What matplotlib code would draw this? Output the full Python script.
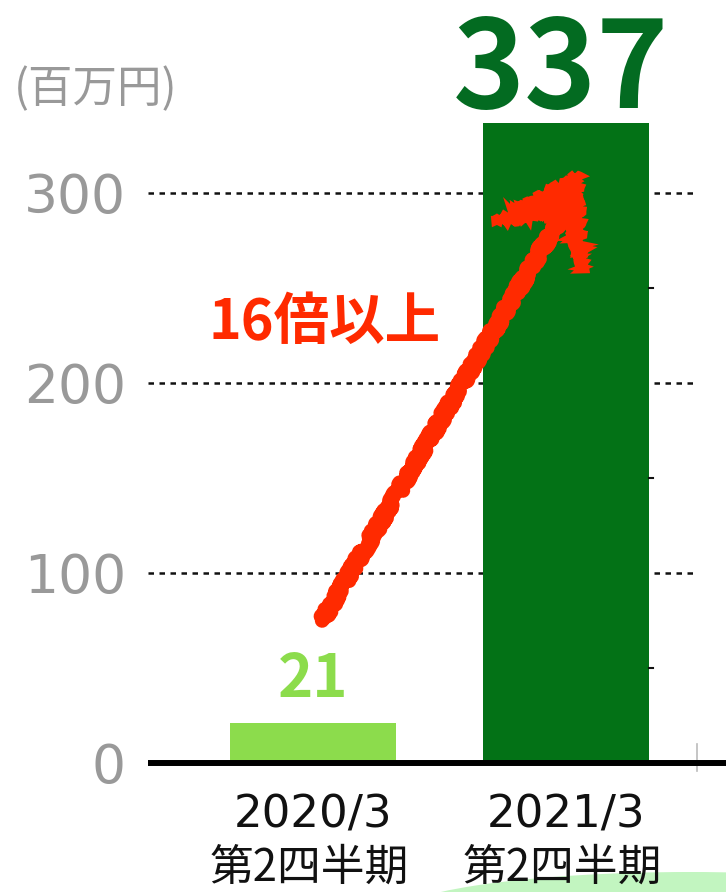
import matplotlib
matplotlib.use("Agg")
import matplotlib.pyplot as plt
from matplotlib.patches import Ellipse, Polygon

# ---- data ----
categories = ["2020/3\n第2四半期", "2021/3\n第2四半期"]
values = [21, 337]
bar_colors = ["#8cdc4c", "#037216"]
label_colors = ["#8cdc4c", "#036b21"]
yticks = [0, 100, 200, 300]
unit_label = "(百万円)"
growth_label = "16倍以上"

W, H = 726, 892
fig = plt.figure(figsize=(W / 100, H / 100), dpi=100)
fig.patch.set_facecolor("white")

# light green decorative ellipse at bottom right
ell = Ellipse((690 / W, 1 - 917 / H), 600 / W, 90 / H, transform=fig.transFigure,
              facecolor="#c2f5c0", edgecolor="none", zorder=-5)
fig.patches.append(ell)

ax = fig.add_axes([148 / W, 0, 578 / W, 1])
ax.patch.set_visible(False)
ax.set_xlim((148 - 313) / 253, (726 - 313) / 253)
ax.set_ylim(-(892 - 763) / 1.9, 763 / 1.9)
for s in ax.spines.values():
    s.set_visible(False)

cjk = ["Noto Sans CJK JP", "DejaVu Sans"]

# gridlines
grid_end = (693 - 313) / 253
for t in yticks[1:]:
    ax.plot([ax.get_xlim()[0], grid_end], [t, t], color="#111111", lw=1.8,
            linestyle=(0, (2.2, 2.2)), zorder=1)

x = list(range(len(values)))
ax.bar(x, values, width=0.66, color=bar_colors, zorder=2)

# small marks on right edge of second bar
for t in [50, 150, 250]:
    ax.plot([1.33, 1.345], [t, t], color="#111111", lw=1.5, zorder=3)

# baseline
ax.axhline(0, color="black", lw=4.3, zorder=4)
ax.plot([1.518, 1.518], [10, -4], color="#bbbbbb", lw=1.2, zorder=3)

# y tick labels
ax.set_yticks(yticks)
ax.set_yticklabels([str(t) for t in yticks], color="#999999", fontsize=38.5,
                   family=["DejaVu Sans"])
ax.tick_params(axis="y", length=0, pad=16)
ax.set_xticks([])

# unit label
fig.text(14 / W, 1 - 102 / H, unit_label, color="#999999", fontsize=32,
         family=cjk, ha="left", va="baseline")

# value labels
ax.text(0, values[0] + 13.7, str(values[0]), color=label_colors[0], fontsize=43,
        fontweight="bold", family=cjk, ha="center", va="baseline")
ax.text(0.98, values[1] + 7.7, str(values[1]), color=label_colors[1], fontsize=88,
        fontweight="bold", family=cjk, ha="center", va="baseline")

# category labels
for i, c in enumerate(categories):
    l1, l2 = c.split("\n")
    ax.text(i, -34.2, l1, color="#111111", fontsize=32.5, family=["DejaVu Sans"],
            ha="center", va="baseline")
    ax.text(i - 0.015, -61.8, l2, color="#111111", fontsize=31.5, family=cjk,
            ha="center", va="baseline")

# growth annotation
red = "#ff2a00"
ax.text((325 - 313) / 253, (763 - 339) / 1.9, growth_label, color=red,
        fontsize=40, fontweight="bold", family=cjk, ha="center", va="baseline",
        zorder=6)

tail = (0.036, 75)
tip = (1.049, 310)
ln, = ax.plot([tail[0], 0.99], [tail[1], 290], color=red, lw=10.5,
              solid_capstyle="round", zorder=5)
ln.set_sketch_params(scale=3.5, length=10, randomness=25)
head = Polygon([(0.719, 284.7), tip, (1.067, 259.5), (0.995, 288)],
               closed=True, facecolor=red, edgecolor=red, lw=5, zorder=5)
head.set_sketch_params(scale=3, length=10, randomness=20)
ax.add_patch(head)

fig.savefig("out.png", dpi=100, facecolor="white")
